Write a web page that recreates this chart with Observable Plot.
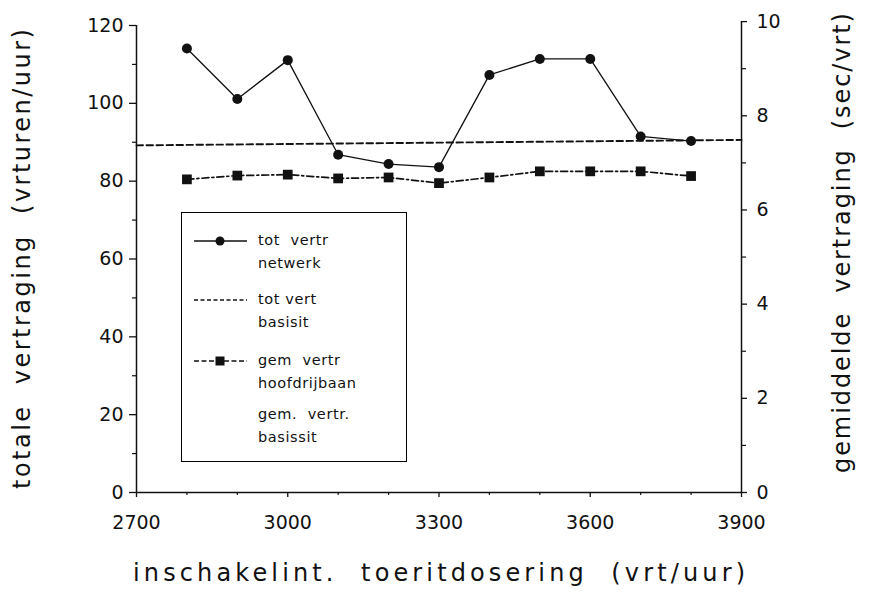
<!DOCTYPE html>
<html>
<head>
<meta charset="utf-8">
<script src="https://cdn.jsdelivr.net/npm/d3@7"></script>
<script src="https://cdn.jsdelivr.net/npm/@observablehq/plot@0.6"></script>
<style>
  body { margin: 0; background: #fff; }
  #wrap { position: relative; width: 874px; height: 593px; font-family: "DejaVu Sans", sans-serif; }
  #legend { position: absolute; left: 181px; top: 212px; width: 226px; height: 250px; border: 1.5px solid #000; background: #fff; box-sizing: border-box; }
  #legend .row { position: absolute; left: 0; width: 100%; }
  #legend .txt { position: absolute; left: 76px; font-size: 14.5px; line-height: 23px; letter-spacing: 0.6px; color: #111; white-space: pre; }
  #legend svg { position: absolute; left: 10px; }
</style>
</head>
<body>
<div id="wrap"></div>
<script>
// ---- data ----
const xValues = [2800, 2900, 3000, 3100, 3200, 3300, 3400, 3500, 3600, 3700, 3800];
const totVertrNetwerk = [114.1, 101.1, 111.1, 86.8, 84.4, 83.6, 107.3, 111.4, 111.4, 91.5, 90.3];
const basisX = [2700, 3900];
const totVertBasisit = [89.2, 90.6];
const gemVertrHoofdrijbaan = [6.65, 6.73, 6.75, 6.67, 6.69, 6.57, 6.69, 6.82, 6.82, 6.82, 6.72];
const leftTicks = [0, 20, 40, 60, 80, 100, 120];
const leftMinor = [10, 30, 50, 70, 90, 110];
const rightTicks = [0, 2, 4, 6, 8, 10];
const rightMinor = [1, 3, 5, 7, 9];
const xTicks = [2700, 3000, 3300, 3600, 3900];
const xMinor = [2800, 2900, 3100, 3200, 3400, 3500, 3700, 3800];
const seriesNames = ["tot  vertr\nnetwerk", "tot vert\nbasisit", "gem  vertr\nhoofdrijbaan", "gem.  vertr.\nbasissit"];
const leftTitle = "totale  vertraging  (vrturen/uur)";
const rightTitle = "gemiddelde  vertraging  (sec/vrt)";
const xTitle = "inschakelint.  toeritdosering  (vrt/uur)";

// left units per right unit
const k = 12.1;

const netwerk = xValues.map((x, i) => ({x, y: totVertrNetwerk[i]}));
const basis = basisX.map((x, i) => ({x, y: totVertBasisit[i]}));
const hoofd = xValues.map((x, i) => ({x, y: gemVertrHoofdrijbaan[i] * k}));

const chart = Plot.plot({
  width: 874,
  height: 593,
  marginLeft: 136,
  marginRight: 133,
  marginTop: 25,
  marginBottom: 101,
  style: {fontFamily: "DejaVu Sans, sans-serif", fontSize: "19px", color: "#111", background: "#fff"},
  x: {domain: [2700, 3900]},
  y: {domain: [0, 120]},
  marks: [
    // axis lines
    Plot.ruleX([2700], {y1: 0, y2: 120, stroke: "#111", strokeWidth: 1.5}),
    Plot.ruleX([3900], {y1: 0, y2: 10 * k, stroke: "#111", strokeWidth: 1.5}),
    Plot.ruleY([0], {stroke: "#111", strokeWidth: 1.5}),
    // left axis
    Plot.axisY(leftTicks, {anchor: "left", tickSize: 7, tickPadding: 6, strokeWidth: 1.3, label: leftTitle, labelAnchor: "center", labelOffset: 124, labelArrow: "none", tickFormat: d => String(d), letterSpacing: 4}),
    Plot.axisY(leftMinor, {anchor: "left", tickSize: 4, strokeWidth: 1.2, tickFormat: () => "", label: null}),
    // right axis
    Plot.axisY(rightTicks.map(v => v * k), {anchor: "right", tickSize: 5, tickPadding: 10, strokeWidth: 1.3, label: rightTitle, labelAnchor: "center", labelOffset: 108, labelArrow: "none", tickFormat: d => String(Math.round(d / k)), letterSpacing: 4}),
    Plot.axisY(rightMinor.map(v => v * k), {anchor: "right", tickSize: 4, strokeWidth: 1.2, tickFormat: () => "", label: null}),
    // x axis
    Plot.axisX(xTicks, {anchor: "bottom", tickSize: 5, tickPadding: 18, strokeWidth: 1.3, label: xTitle, labelAnchor: "center", labelOffset: 88, labelArrow: "none", tickFormat: d => String(d), letterSpacing: 4}),
    Plot.axisX(xMinor, {anchor: "bottom", tickSize: 3, strokeWidth: 1.2, tickFormat: () => "", label: null}),
    // series
    Plot.line(basis, {x: "x", y: "y", stroke: "#111", strokeWidth: 1.9, strokeDasharray: "6.5,3.5"}),
    Plot.line(hoofd, {x: "x", y: "y", stroke: "#111", strokeWidth: 1.7, strokeDasharray: "7,3,2,3"}),
    Plot.dot(hoofd, {x: "x", y: "y", symbol: "square", r: 5.5, fill: "#111", stroke: "none"}),
    Plot.line(netwerk, {x: "x", y: "y", stroke: "#111", strokeWidth: 1.3}),
    Plot.dot(netwerk, {x: "x", y: "y", r: 5, fill: "#111", stroke: "none"})
  ]
});

const wrap = document.getElementById("wrap");
wrap.appendChild(chart);

// title sizing: stretch titles to the reference lengths
const fitTitle = (sel, len) => {
  const found = [];
  chart.querySelectorAll(sel).forEach(t => {
    if (!t.textContent.trim()) return;
    t.style.fontSize = "24px";
    t.style.letterSpacing = "0px";
    t.setAttribute("textLength", len);
    t.setAttribute("lengthAdjust", "spacing");
    found.push(t);
  });
  return found;
};
const yTitles = fitTitle('g[aria-label="y-axis label"] text', 460);
fitTitle('g[aria-label="x-axis label"] text', 612);
// the right-hand title sits a little higher in the reference
yTitles.forEach(t => { if (t.textContent.startsWith("gemiddelde")) t.setAttribute("dx", "16"); });

// legend
const legend = document.createElement("div");
legend.id = "legend";
const rowsTop = [16, 75, 136, 190];
seriesNames.forEach((name, i) => {
  const row = document.createElement("div");
  row.className = "row";
  row.style.top = rowsTop[i] + "px";
  const txt = document.createElement("div");
  txt.className = "txt";
  txt.textContent = name;
  row.appendChild(txt);
  if (i < 3) {
    const ns = "http://www.w3.org/2000/svg";
    const s = document.createElementNS(ns, "svg");
    s.setAttribute("width", 56); s.setAttribute("height", 20);
    s.style.top = "2px";
    const l = document.createElementNS(ns, "line");
    l.setAttribute("x1", 2); l.setAttribute("x2", 55); l.setAttribute("y1", 10); l.setAttribute("y2", 10);
    l.setAttribute("stroke", "#111");
    l.setAttribute("stroke-width", i === 0 ? 1.5 : 1.4);
    if (i === 1) l.setAttribute("stroke-dasharray", "4,2.5");
    if (i === 2) l.setAttribute("stroke-dasharray", "5,2.5");
    s.appendChild(l);
    if (i === 0) {
      const c = document.createElementNS(ns, "circle");
      c.setAttribute("cx", 28); c.setAttribute("cy", 10); c.setAttribute("r", 4.5); c.setAttribute("fill", "#111");
      s.appendChild(c);
    }
    if (i === 2) {
      const r = document.createElementNS(ns, "rect");
      r.setAttribute("x", 23.5); r.setAttribute("y", 5.5); r.setAttribute("width", 9); r.setAttribute("height", 9); r.setAttribute("fill", "#111");
      s.appendChild(r);
    }
    row.appendChild(s);
  }
  legend.appendChild(row);
});
wrap.appendChild(legend);
</script>
</body>
</html>
